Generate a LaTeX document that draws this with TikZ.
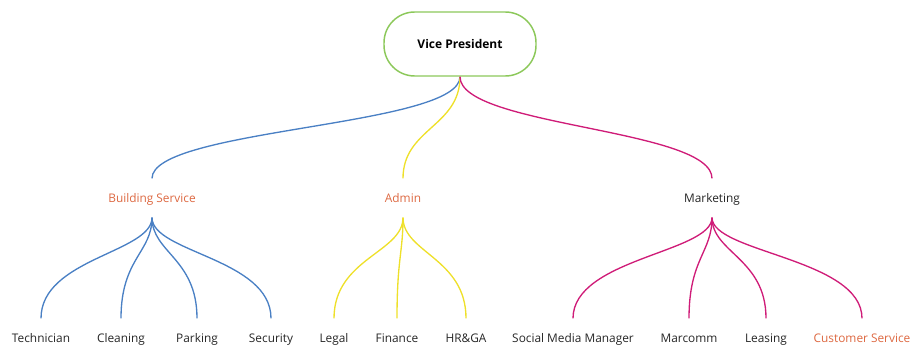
\documentclass[tikz,border=0pt]{standalone}
\usepackage{fontspec}
\setmainfont{Open Sans}
\usetikzlibrary{positioning}
\definecolor{vpGreen}{HTML}{8CC85A}
\definecolor{bsBlue}{HTML}{4A80C4}
\definecolor{adYellow}{HTML}{EEE02A}
\definecolor{mkPink}{HTML}{CF1C78}
\definecolor{unitRed}{HTML}{DD6841}
\definecolor{unitGray}{HTML}{262626}

\begin{document}
\begin{tikzpicture}[x=0.75pt, y=-0.75pt,
  vp/.style={draw=vpGreen, line width=1.1pt, rounded corners=23pt,
             minimum width=114pt, minimum height=48pt,
             font=\fontsize{9}{11}\selectfont\bfseries},
  unit/.style={minimum height=29pt, inner sep=0pt, text=unitGray,
               text height=1.6ex, text depth=0.4ex,
               font=\fontsize{8.9}{10}\selectfont},
  link/.style={line width=1pt}
]
\useasboundingbox (0,0) rectangle (912,349);

\node[vp] (vp) at (460,44) {Vice President};

% departments
\node[unit, text=unitRed] (bs) at (152,198) {Building Service};
\node[unit, text=unitRed] (ad) at (403,198) {Admin};
\node[unit] (mk) at (712,198) {Marketing};

% units under each department
\node[unit] (tech) at (41,338) {Technician};
\node[unit] (clean) at (121,338) {Cleaning};
\node[unit] (park) at (197,338) {Parking};
\node[unit] (sec) at (271,338) {Security};
\node[unit] (legal) at (334,338) {Legal};
\node[unit] (fin) at (397,338) {Finance};
\node[unit] (hrga) at (466,338) {HR\&GA};
\node[unit] (smm) at (573,338) {Social Media Manager};
\node[unit] (marc) at (689,338) {Marcomm};
\node[unit] (leas) at (766,338) {Leasing};
\node[unit, text=unitRed] (cs) at (862,338) {Customer Service};

\draw[link, bsBlue] (vp.south) .. controls +(0,50) and +(0,-50) .. (bs.north);
\draw[link, adYellow] (vp.south) .. controls +(0,50) and +(0,-50) .. (ad.north);
\draw[link, mkPink] (vp.south) .. controls +(0,50) and +(0,-50) .. (mk.north);

\draw[link, bsBlue] (bs.south) .. controls +(0,35) and +(0,-60) .. (tech.north);
\draw[link, bsBlue] (bs.south) .. controls +(0,35) and +(0,-60) .. (clean.north);
\draw[link, bsBlue] (bs.south) .. controls +(0,35) and +(0,-60) .. (park.north);
\draw[link, bsBlue] (bs.south) .. controls +(0,35) and +(0,-60) .. (sec.north);

\draw[link, adYellow] (ad.south) .. controls +(0,35) and +(0,-60) .. (legal.north);
\draw[link, adYellow] (ad.south) .. controls +(0,35) and +(0,-60) .. (fin.north);
\draw[link, adYellow] (ad.south) .. controls +(0,35) and +(0,-60) .. (hrga.north);

\draw[link, mkPink] (mk.south) .. controls +(0,35) and +(0,-60) .. (smm.north);
\draw[link, mkPink] (mk.south) .. controls +(0,35) and +(0,-60) .. (marc.north);
\draw[link, mkPink] (mk.south) .. controls +(0,35) and +(0,-60) .. (leas.north);
\draw[link, mkPink] (mk.south) .. controls +(0,35) and +(0,-60) .. (cs.north);
\end{tikzpicture}
\end{document}
